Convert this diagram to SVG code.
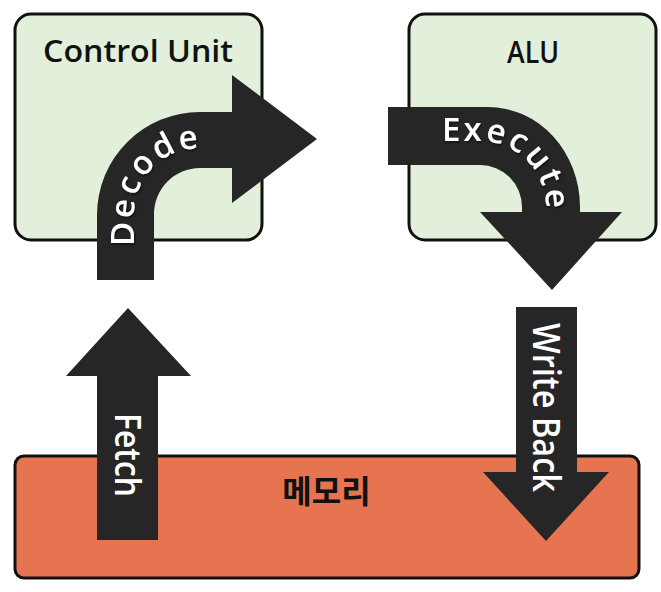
<svg xmlns="http://www.w3.org/2000/svg" width="661" height="592" viewBox="0 0 661 592">
<defs>
<style>
.box{fill:#e2efda;stroke:#111;stroke-width:3}
.mem{fill:#e67450;stroke:#111;stroke-width:3}
.arrow{fill:#262626;stroke:none}
.lbl{font-family:"Open Sans","Liberation Sans",sans-serif;font-size:30px;font-weight:600;fill:#111}
.albl{font-family:"Open Sans","Liberation Sans",sans-serif;font-weight:600;fill:#fff}
.kor{font-family:"Noto Sans CJK KR","Noto Sans",sans-serif;font-size:32px;font-weight:700;fill:#111}
</style>
<filter id="sh" x="-20%" y="-20%" width="140%" height="140%">
<feDropShadow dx="1" dy="1.5" stdDeviation="1" flood-color="#000" flood-opacity="0.6"/>
</filter>
<path id="decodePath" d="M 134 262 L 134 214 A 66 66 0 0 1 200 148 L 250 148"/>
<path id="executePath" d="M 400 141 L 480 141 A 66 66 0 0 1 546 207 L 546 260"/>
</defs>

<g id="control-unit">
<rect class="box" x="15" y="14" width="247" height="226" rx="16"/>
<text class="lbl" x="43" y="62" textLength="190" lengthAdjust="spacingAndGlyphs">Control Unit</text>
</g>

<g id="alu">
<rect class="box" x="409" y="14" width="247" height="226" rx="16"/>
<text class="lbl" x="507" y="63" textLength="52" lengthAdjust="spacingAndGlyphs">ALU</text>
</g>

<g id="memory">
<rect class="mem" x="15" y="456" width="624" height="122" rx="9"/>
<text class="kor" x="326.5" y="503" text-anchor="middle">메모리</text>
</g>

<g id="connectors">
<g id="fetch">
<path class="arrow" d="M 97 540 L 97 376 L 66 376 L 128 308 L 191 376 L 158 376 L 158 540 Z"/>
<text class="albl" font-size="36" transform="translate(115,413) rotate(90)" x="0" y="0" textLength="84" lengthAdjust="spacingAndGlyphs">Fetch</text>
</g>
<g id="decode">
<path class="arrow" d="M 97 280 L 97 215 A 103 103 0 0 1 200 112 L 232 112 L 232 75 L 317 139 L 232 203 L 232 168 L 200 168 A 46 46 0 0 0 154 214 L 154 280 Z"/>
<text class="albl" font-size="33" letter-spacing="3" filter="url(#sh)"><textPath href="#decodePath" startOffset="16">Decode</textPath></text>
</g>
<g id="execute">
<path class="arrow" d="M 388 107 L 488 107 A 92 100 0 0 1 580 207 L 580 212 L 622 212 L 552 290 L 480 212 L 522 212 L 522 207 A 42 42 0 0 0 480 165 L 388 165 Z"/>
<text class="albl" font-size="33" letter-spacing="3" filter="url(#sh)"><textPath href="#executePath" startOffset="42">Execute</textPath></text>
</g>
<g id="write-back">
<path class="arrow" d="M 516 307 L 577 307 L 577 472 L 609 472 L 546 541 L 483 472 L 516 472 Z"/>
<text class="albl" font-size="37" transform="translate(533,323) rotate(90)" x="0" y="0" textLength="169" lengthAdjust="spacingAndGlyphs">Write Back</text>
</g>
</g>
</svg>
